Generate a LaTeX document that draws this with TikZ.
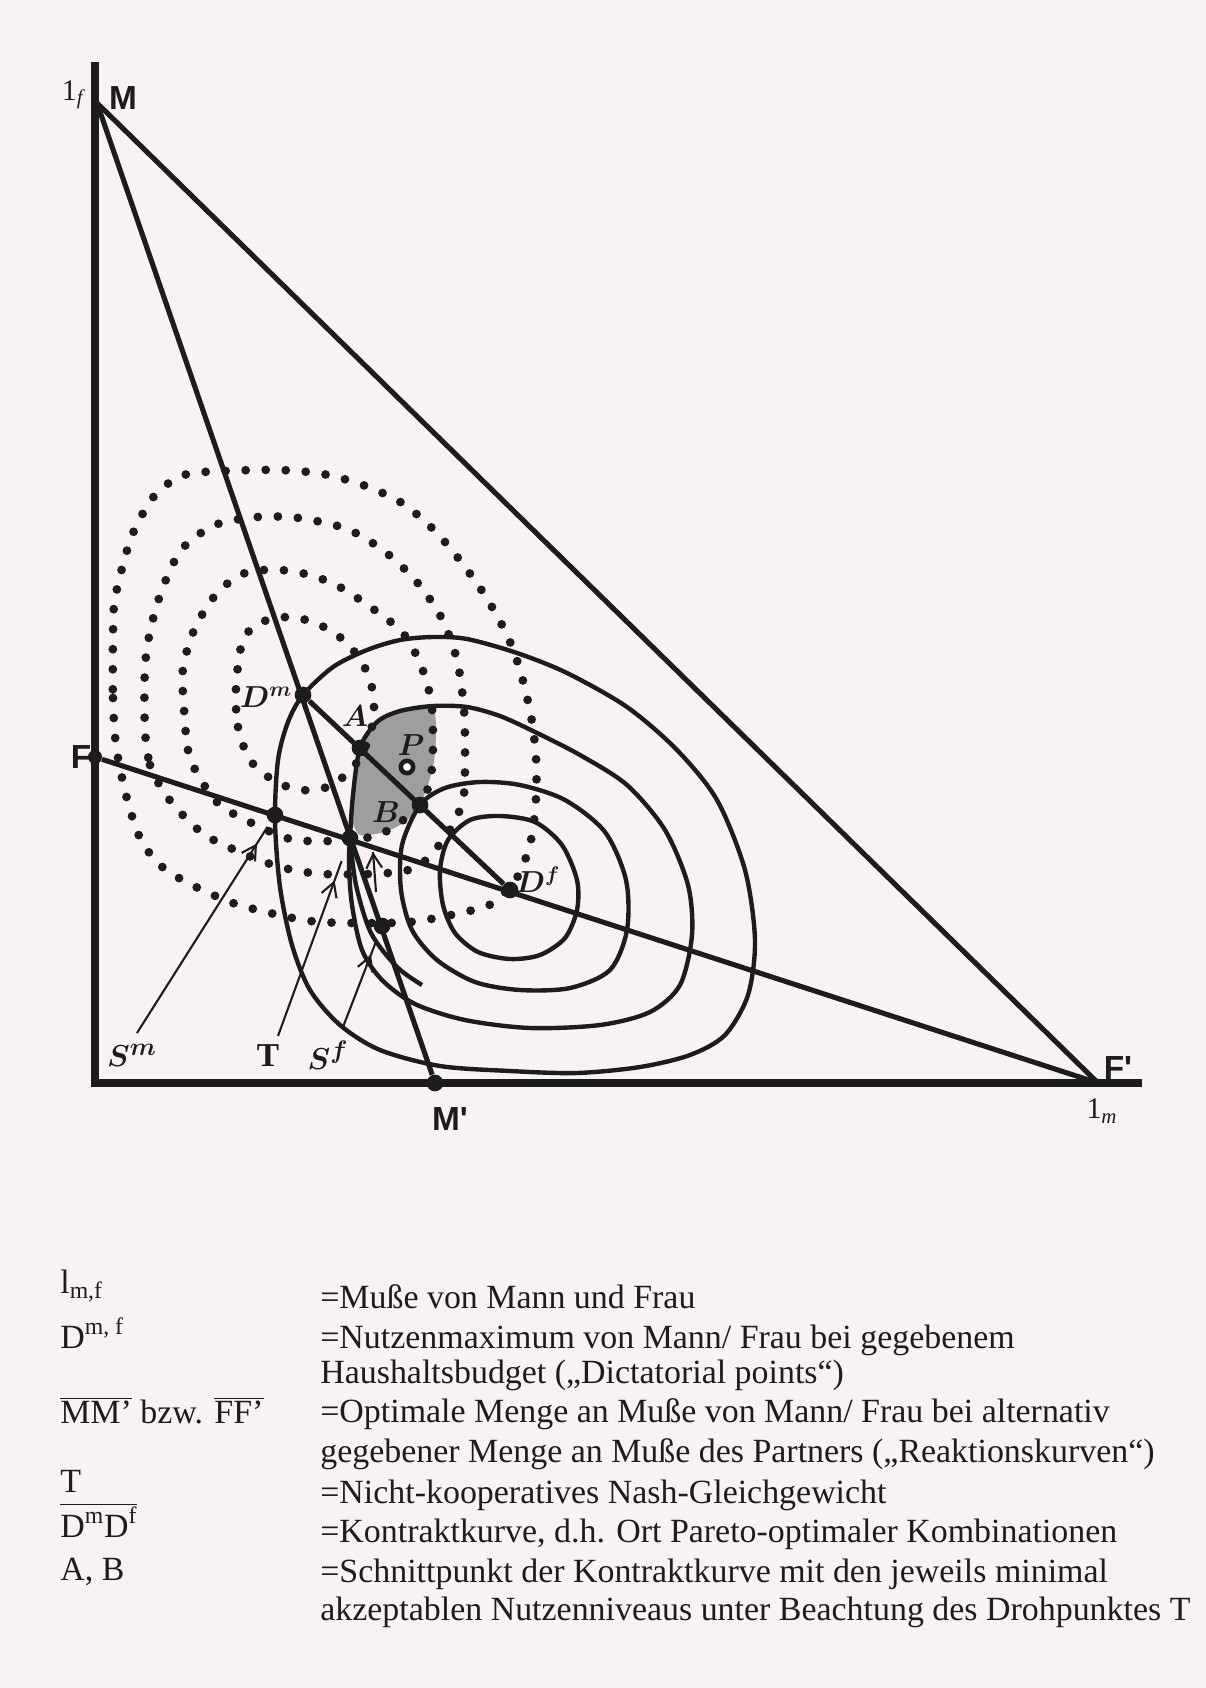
\documentclass[tikz,border=0pt]{standalone}
\usepackage{fontspec}
\setmainfont{Liberation Serif}
\newfontfamily\handfont{Liberation Sans}
\usetikzlibrary{arrows.meta, decorations.markings, positioning, calc}
\definecolor{paper}{RGB}{248,241,246}
\definecolor{ink}{RGB}{28,28,28}

\begin{document}
\begin{tikzpicture}[
    x=0.02cm, y=-0.02cm,
    axis/.style={line width=5pt, draw=ink, line join=miter},
    react/.style={line width=2.9pt, draw=ink},
    indiff/.style={line width=2.5pt, draw=ink},
    dotcurve/.style={draw=ink, line width=5pt, line cap=round, dash pattern=on 0pt off 11.4pt},
    pnt/.style={circle, fill=ink, inner sep=0pt, minimum size=9.5pt},
    lbl/.style={font=\fontsize{17}{20}\selectfont\boldmath, inner sep=0pt, text=ink},
    hand/.style={font=\handfont\bfseries\fontsize{19}{22}\selectfont, inner sep=0pt, text=ink},
    pointer/.style={line width=1.2pt, draw=ink, postaction={decorate},
        decoration={markings, mark=at position #1 with {\arrow{Straight Barb[length=8pt, width=9pt, line width=1.2pt]}}}},
    legend/.style={font=\fontsize{19.3}{22}\selectfont, inner sep=0pt, anchor=base west, text=ink}
]
    \fill[paper] (0,0) rectangle (1206,1688);

    % corner points
    \coordinate (top) at (95,62);
    \coordinate (O) at (95,1083);
    \coordinate (xend) at (1142,1083);
    \coordinate (M) at (97,103);
    \coordinate (Fp) at (1098,1083);

    % shaded bargaining set
    \fill[black!38] plot[smooth cycle, tension=0.35] coordinates {(360,748) (377,722) (400,712) (433,709) (436,735) (434,762) (428,785) (420,805) (405,822) (385,832) (360,835) (351,818) (352,790) (355,765)};

    % dotted indifference curves (Mann)
    \draw[dotcurve] plot[smooth cycle] coordinates {(113,636) (113,698) (116,745) (126,795) (140,838) (160,865) (188,883) (230,902) (270,913) (310,921) (350,923) (410,922) (460,913) (493,903) (518,876) (531,840) (536,798) (536,757) (531,716) (520,670) (507,635) (486,597) (462,563) (435,531) (402,503) (363,485) (323,474) (280,470) (225,471) (184,475) (155,495) (133,533) (120,576) (114,606)};
    \draw[dotcurve] plot[smooth cycle] coordinates {(145,730) (150,765) (162,789) (178,810) (205,835) (242,853) (280,867) (323,874) (388,873) (420,865) (448,833) (463,800) (465,760) (464,710) (457,660) (441,617) (416,581) (384,551) (347,529) (299,518) (257,517) (215,525) (182,549) (163,587) (151,627) (145,667)};
    \draw[dotcurve] plot[smooth cycle] coordinates {(184,709) (188,750) (198,775) (220,805) (258,826) (295,840) (350,840) (385,832) (420,805) (431,775) (433,740) (431,700) (420,663) (402,632) (369,606) (332,583) (291,571) (248,572) (218,592) (195,628) (183,668)};
    \draw[dotcurve] plot[smooth cycle] coordinates {(236,687) (238,727) (250,760) (273,780) (300,790) (330,786) (355,765) (370,735) (374,700) (366,670) (347,643) (320,625) (291,617) (262,622) (243,640)};

    % solid indifference curves (Frau)
    \draw[indiff] plot[smooth cycle] coordinates {(440,870) (448,840) (470,820) (500,816) (535,822) (562,845) (577,880) (577,910) (565,938) (540,955) (510,959) (478,952) (455,933) (443,905)};
    \draw[indiff] plot[smooth cycle] coordinates {(420,805) (445,788) (480,782) (520,785) (565,800) (605,832) (626,880) (627,930) (610,970) (570,988) (520,990) (475,982) (437,960) (412,930) (401,890) (402,845)};
    \draw[indiff] plot[smooth cycle] coordinates {(360,748) (377,722) (400,711) (433,706) (467,707) (500,716) (535,732) (580,755) (627,785) (665,830) (688,885) (692,935) (680,985) (650,1012) (600,1025) (530,1028) (465,1020) (415,1004) (382,980) (362,950) (352,905) (349,865) (350,838) (353,795)};
    \draw[indiff] plot[smooth cycle] coordinates {(303,695) (333,667) (367,650) (400,640) (433,637) (467,639) (517,653) (567,673) (627,707) (677,750) (717,800) (745,870) (755,940) (748,995) (725,1035) (690,1055) (640,1067) (577,1073) (510,1071) (440,1066) (380,1050) (340,1025) (310,990) (292,945) (280,887) (275,820) (278,760) (288,722)};
    \draw[indiff] plot[smooth] coordinates {(350,838) (356,885) (371,933) (397,967) (422,985)};

    % points
    \node[pnt] (Dm) at (303,695) {};
    \node[pnt] (Df) at (510,890) {};
    \node[pnt] (A) at (360,748) {};
    \node[pnt] (B) at (420,805) {};
    \node[pnt] (Sm) at (275,815) {};
    \node[pnt] (T) at (350,838) {};
    \node[pnt] (Sf) at (382,926) {};
    \node[pnt] (Mp) at (435,1083) {};
    \node[pnt, minimum size=8pt] (F) at (95,757) {};
    \node[circle, draw=ink, line width=2.6pt, fill=white, inner sep=0pt, minimum size=7pt] (P) at (407,767) {};

    % axes and reaction curves
    \draw[axis] (top) -- (O) -- (xend);
    \draw[react] (M) -- (Fp);
    \draw[react] (M) -- (Mp);
    \draw[react] (F) -- (Fp);
    \draw[react] (Dm) -- (Df);

    % labels
    \node[lbl] (lf) at (74,95) {1\textsubscript{\textit{f}}};
    \node[hand] (Mlab) at (123,98) {M};
    \node[hand] (Flab) at (81,757) {F};
    \node[hand] (Fplab) at (1118,1068) {F'};
    \node[hand] (Mplab) at (450,1119) {M'};
    \node[lbl] (lm) at (1102,1111) {1\textsubscript{\textit{m}}};
    \node[lbl] (Dmlab) at (266,697) {$D^m$};
    \node[lbl] (Alab) at (355,716) {$A$};
    \node[lbl] (Plab) at (411,745) {$P$};
    \node[lbl] (Blab) at (386,812) {$B$};
    \node[lbl] (Dflab) at (538,880) {$D^f$};
    \node[lbl, font=\fontsize{19}{22}\selectfont\boldmath] (Smlab) at (132,1055) {$S^m$};
    \node[lbl, font=\fontsize{19}{22}\selectfont\bfseries] (Tlab) at (268,1056) {T};
    \node[lbl, font=\fontsize{19}{22}\selectfont\boldmath] (Sflab) at (328,1055) {$S^f$};

    % pointers
    \coordinate (SmTail) at (137,1033);
    \coordinate (TTail) at (278,1036);
    \coordinate (SfTail) at (343,1027);
    \coordinate (mkA) at (376,892);
    \coordinate (mkB) at (373,852);
    \draw[pointer=0.9, shorten >=3pt] (SmTail) -- (Sm);
    \draw[pointer=0.82, shorten >=9pt] (TTail) -- (T);
    \draw[pointer=0.78, shorten >=5pt] (SfTail) -- (Sf);
    \draw[pointer=1] (mkA) -- (mkB);

    % legend
    \node[legend] (k1) at (60,1293) {l\textsubscript{m,f}};
    \node[legend] (v1) at (320,1308) {=Muße von Mann und Frau};
    \node[legend] (k2) at (60,1348) {D\textsuperscript{m, f}};
    \node[legend] (v2) at (320,1348) {=Nutzenmaximum von Mann/ Frau bei gegebenem};
    \node[legend] (v3) at (320,1383) {Haushaltsbudget („Dictatorial points“)};
    \node[legend] (k4) at (60,1423) {$\overline{\hbox{MM’}}$ bzw. $\overline{\hbox{FF’}}$};
    \node[legend] (v4) at (320,1422) {=Optimale Menge an Muße von Mann/ Frau bei alternativ};
    \node[legend] (v5) at (320,1462) {gegebener Menge an Muße des Partners („Reaktionskurven“)};
    \node[legend] (k6) at (60,1492) {T};
    \node[legend] (v6) at (320,1503) {=Nicht-kooperatives Nash-Gleichgewicht};
    \node[legend] (k7) at (60,1537) {$\overline{\hbox{D\textsuperscript{m}D\textsuperscript{f}}}$};
    \node[legend] (v7) at (320,1542) {=Kontraktkurve, d.h. Ort Pareto-optimaler Kombinationen};
    \node[legend] (k8) at (60,1580) {A, B};
    \node[legend] (v8) at (320,1582) {=Schnittpunkt der Kontraktkurve mit den jeweils minimal};
    \node[legend] (v9) at (320,1620) {akzeptablen Nutzenniveaus unter Beachtung des Drohpunktes T};
\end{tikzpicture}
\end{document}
